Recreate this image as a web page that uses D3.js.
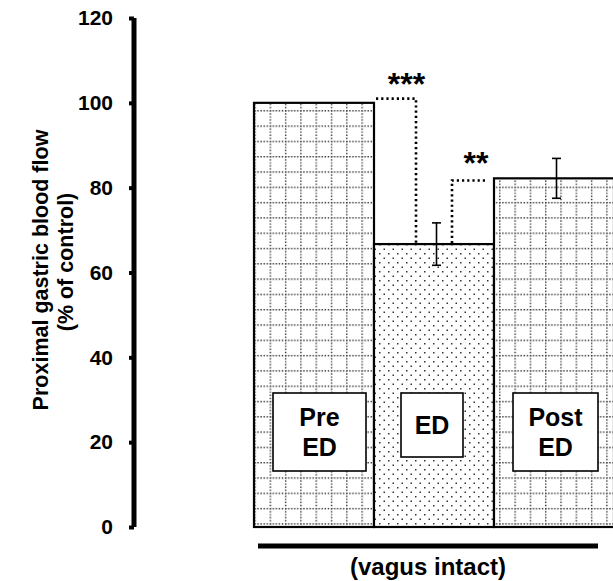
<!DOCTYPE html>
<meta charset="utf-8">
<script src="https://d3js.org/d3.v7.min.js"></script>
<style>
body { margin: 0; background: #fff; }
text { font-family: "Liberation Sans", Arial, sans-serif; font-weight: bold; }
</style>
<body>
<div id="chart"></div>
<script>

// data
const groups = ["Pre ED", "ED", "Post ED"];
const labelLines = [["Pre", "ED"], ["ED"], ["Post", "ED"]];
const values = [100, 66.7, 82.2];
const errors = [0, 5, 4.7];
const yTicks = [0, 20, 40, 60, 80, 100, 120];

const W = 613, H = 581;

const svg = d3.select("#chart").append("svg")
    .attr("width", W)
    .attr("height", H);

const y = d3.scaleLinear().domain([0, 120]).range([527, 18]);
const x = d3.scaleBand().domain(groups).range([254, 614]).padding(0);
const bw = x.bandwidth();

// fill patterns
const defs = svg.append("defs");
const grid = defs.append("pattern")
    .attr("id", "grid")
    .attr("patternUnits", "userSpaceOnUse")
    .attr("width", 15.3).attr("height", 15.3)
    .attr("patternTransform", "translate(9.5,3)");
grid.append("rect").attr("width", 15.3).attr("height", 15.3).attr("fill", "#fff");
grid.append("line").attr("x1", 0).attr("x2", 15.3).attr("y1", 0.7).attr("y2", 0.7)
    .attr("stroke", "#333").attr("stroke-width", 1.4).attr("stroke-dasharray", "1.4 1.66");
grid.append("line").attr("y1", 0).attr("y2", 15.3).attr("x1", 0.7).attr("x2", 0.7)
    .attr("stroke", "#333").attr("stroke-width", 1.4).attr("stroke-dasharray", "1.4 1.66");

const dots = defs.append("pattern")
    .attr("id", "dots")
    .attr("patternUnits", "userSpaceOnUse")
    .attr("width", 9).attr("height", 9);
dots.append("rect").attr("width", 9).attr("height", 9).attr("fill", "#fff");
dots.append("rect").attr("x", 1).attr("y", 1).attr("width", 1.5).attr("height", 1.5).attr("fill", "#333");
dots.append("rect").attr("x", 5.5).attr("y", 5.5).attr("width", 1.5).attr("height", 1.5).attr("fill", "#333");

const fills = ["url(#grid)", "url(#dots)", "url(#grid)"];

// bars
svg.selectAll("rect.bar")
  .data(groups)
  .join("rect")
    .attr("class", "bar")
    .attr("x", d => x(d))
    .attr("y", (d, i) => y(values[i]))
    .attr("width", bw)
    .attr("height", (d, i) => y(0) - y(values[i]))
    .attr("fill", (d, i) => fills[i])
    .attr("stroke", "#000")
    .attr("stroke-width", 2.2);

// error bars
groups.forEach((g, i) => {
  if (!errors[i]) return;
  const cx = x(g) + bw / 2 + 2.5;
  const e = svg.append("g").attr("stroke", "#000").attr("stroke-width", 1.6);
  e.append("line").attr("x1", cx).attr("x2", cx)
    .attr("y1", y(values[i] + errors[i])).attr("y2", y(values[i] - errors[i]));
  [values[i] + errors[i], values[i] - errors[i]].forEach(v => {
    e.append("line").attr("x1", cx - 4.5).attr("x2", cx + 4.5)
      .attr("y1", y(v)).attr("y2", y(v));
  });
});

// significance brackets (dotted)
const dotted = { stroke: "#000", "stroke-width": 2.6, "stroke-dasharray": "2.2 3", fill: "none" };
function bracket(pts) {
  const p = svg.append("path").attr("d", d3.line()(pts));
  Object.entries(dotted).forEach(([k, v]) => p.attr(k, v));
}
bracket([[x("Pre ED") + bw + 2, y(101)], [x("ED") + bw * 0.35, y(101)], [x("ED") + bw * 0.35, y(values[1])]]);
bracket([[x("ED") + bw * 0.925, y(81.7)], [x("ED") + bw * 0.65, y(81.7)], [x("ED") + bw * 0.65, y(values[1])]]);

svg.append("text").attr("x", x("ED") + bw * 0.27).attr("y", y(101) - 4)
  .attr("text-anchor", "middle").attr("font-size", 32).text("***");
svg.append("text").attr("x", x("ED") + bw * 0.85).attr("y", y(81.7) - 6)
  .attr("text-anchor", "middle").attr("font-size", 32).text("**");

// group label boxes
const boxW = [93, 62, 85], boxOff = [19, 27, 19], boxH = [78, 64, 78];
groups.forEach((g, i) => {
  const bx = x(g) + boxOff[i];
  svg.append("rect").attr("x", bx).attr("y", 393).attr("width", boxW[i]).attr("height", boxH[i])
    .attr("fill", "#fff").attr("stroke", "#000").attr("stroke-width", 1.6);
  const lines = labelLines[i];
  lines.forEach((t, j) => {
    const base = lines.length === 2 ? 426 + j * 30 : 434;
    svg.append("text").attr("x", bx + boxW[i] / 2).attr("y", base)
      .attr("text-anchor", "middle").attr("font-size", 25).text(t);
  });
});

// y axis
const yAxis = svg.append("g").attr("transform", "translate(134,0)")
  .call(d3.axisLeft(y).tickValues(yTicks).tickSize(5).tickPadding(16));
yAxis.select(".domain").attr("stroke-width", 5).attr("d", `M0,${y(120)}V${y(0)}`);
yAxis.selectAll(".tick line").attr("stroke-width", 4);
yAxis.selectAll(".tick text").attr("font-size", 21).attr("font-family", "Liberation Sans, Arial, sans-serif")
  .attr("font-weight", "bold").attr("fill", "#000");

svg.append("text")
  .attr("transform", `translate(48,270) rotate(-90)`)
  .attr("text-anchor", "middle").attr("font-size", 21.5)
  .text("Proximal gastric blood flow");
svg.append("text")
  .attr("transform", `translate(73,262) rotate(-90)`)
  .attr("text-anchor", "middle").attr("font-size", 21.5)
  .text("(% of control)");

// x group line and label
svg.append("line").attr("x1", 258).attr("x2", 598).attr("y1", 546).attr("y2", 546)
  .attr("stroke", "#000").attr("stroke-width", 5);
svg.append("text").attr("x", 428).attr("y", 575).attr("text-anchor", "middle")
  .attr("font-size", 24).text("(vagus intact)");

</script>
</body>
